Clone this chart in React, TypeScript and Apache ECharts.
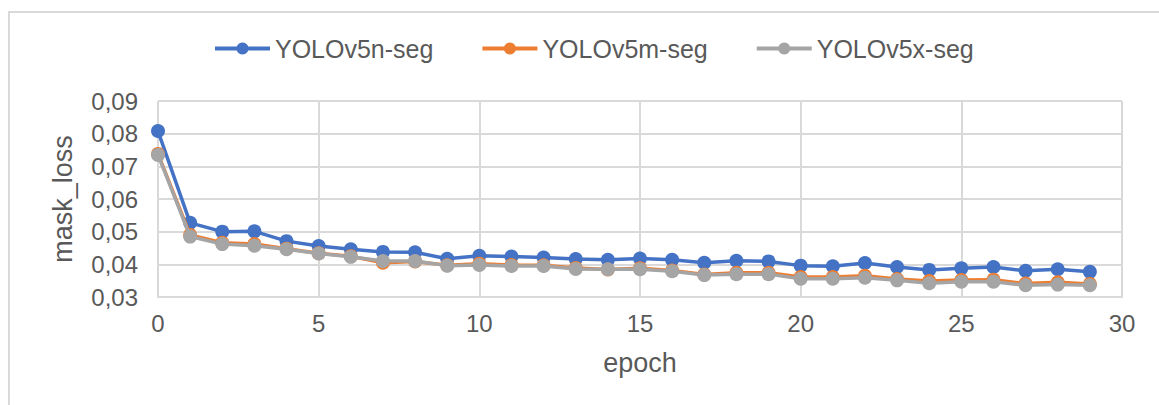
import React, { useEffect, useRef } from "react";
import * as echarts from "echarts";

const epochs = [0, 1, 2, 3, 4, 5, 6, 7, 8, 9, 10, 11, 12, 13, 14, 15, 16, 17, 18, 19, 20, 21, 22, 23, 24, 25, 26, 27, 28, 29];

const seriesNames = ["YOLOv5n-seg", "YOLOv5m-seg", "YOLOv5x-seg"];

const yolov5n = [0.0808, 0.0527, 0.05, 0.0501, 0.0471, 0.0456, 0.0446, 0.0438, 0.0437, 0.0417, 0.0426, 0.0424, 0.0421, 0.0416, 0.0414, 0.0418, 0.0414, 0.0405, 0.0411, 0.0409, 0.0396, 0.0394, 0.0404, 0.0392, 0.0383, 0.0388, 0.0392, 0.038, 0.0385, 0.0377];
const yolov5m = [0.0738, 0.049, 0.0466, 0.0462, 0.0448, 0.0434, 0.0425, 0.0405, 0.0409, 0.0397, 0.0402, 0.0398, 0.0397, 0.0389, 0.0384, 0.0388, 0.0381, 0.0369, 0.0374, 0.0374, 0.0361, 0.0361, 0.0365, 0.0355, 0.0349, 0.0352, 0.0353, 0.0341, 0.0345, 0.034];
const yolov5x = [0.0735, 0.0485, 0.0462, 0.0457, 0.0446, 0.0433, 0.0423, 0.041, 0.041, 0.0396, 0.0398, 0.0395, 0.0395, 0.0386, 0.0385, 0.0385, 0.0379, 0.0367, 0.037, 0.037, 0.0356, 0.0356, 0.0359, 0.0351, 0.0342, 0.0347, 0.0347, 0.0336, 0.0338, 0.0336];

const colors = ["#4472C4", "#ED7D31", "#A5A5A5"];

const FONT = "'Liberation Sans', Arial, sans-serif";
const TEXT = "#595959";
const GRID = "#D9D9D9";

export default function App() {
  const ref = useRef<HTMLDivElement>(null);
  useEffect(() => {
    if (!ref.current) return;
    const chart = echarts.init(ref.current, undefined, { renderer: "svg" });
    const all = [yolov5n, yolov5m, yolov5x];
    chart.setOption({
      animation: false,
      backgroundColor: "#ffffff",
      textStyle: { fontFamily: FONT },
      graphic: [
        {
          type: "rect",
          shape: { x: 9, y: 12, width: 1300, height: 600 },
          style: { fill: "none", stroke: GRID, lineWidth: 2 },
          silent: true,
          z: -10,
        },
      ],
      legend: {
        top: 36,
        left: 213,
        padding: 0,
        itemWidth: 55,
        itemHeight: 15,
        itemGap: 47,
        lineStyle: { width: 4 },
        textStyle: { fontFamily: FONT, fontSize: 25, color: TEXT },
        data: seriesNames,
      },
      grid: { left: 158, right: 37, top: 101, bottom: 108, containLabel: false },
      xAxis: {
        type: "value",
        min: 0,
        max: 30,
        interval: 5,
        name: "epoch",
        nameLocation: "middle",
        nameGap: 52,
        nameTextStyle: { fontFamily: FONT, fontSize: 27, color: TEXT },
        axisLine: { show: true, lineStyle: { color: GRID, width: 2 } },
        axisTick: { show: false },
        axisLabel: { fontFamily: FONT, fontSize: 24, color: TEXT, margin: 14 },
        splitLine: { show: true, lineStyle: { color: GRID, width: 2 } },
      },
      yAxis: {
        type: "value",
        min: 0.03,
        max: 0.09,
        interval: 0.01,
        name: "mask_loss",
        nameLocation: "middle",
        nameRotate: 90,
        nameGap: 82,
        nameTextStyle: { fontFamily: FONT, fontSize: 27, color: TEXT },
        axisLine: { show: false },
        axisTick: { show: false },
        axisLabel: {
          fontFamily: FONT,
          fontSize: 24,
          color: TEXT,
          margin: 20,
          formatter: (v: number) => v.toFixed(2).replace(".", ","),
        },
        splitLine: { show: true, lineStyle: { color: GRID, width: 2 } },
      },
      series: seriesNames.map((name, i) => ({
        name,
        type: "line",
        data: epochs.map((e, j) => [e, all[i][j]]),
        symbol: "circle",
        symbolSize: 14,
        showSymbol: true,
        itemStyle: { color: colors[i] },
        lineStyle: { color: colors[i], width: 3.5 },
        z: 2 + i,
      })),
    });
    return () => chart.dispose();
  }, []);
  return (
    <div
      ref={ref}
      style={{ position: "fixed", left: 0, top: 0, width: 1159, height: 405, background: "#fff" }}
    />
  );
}
